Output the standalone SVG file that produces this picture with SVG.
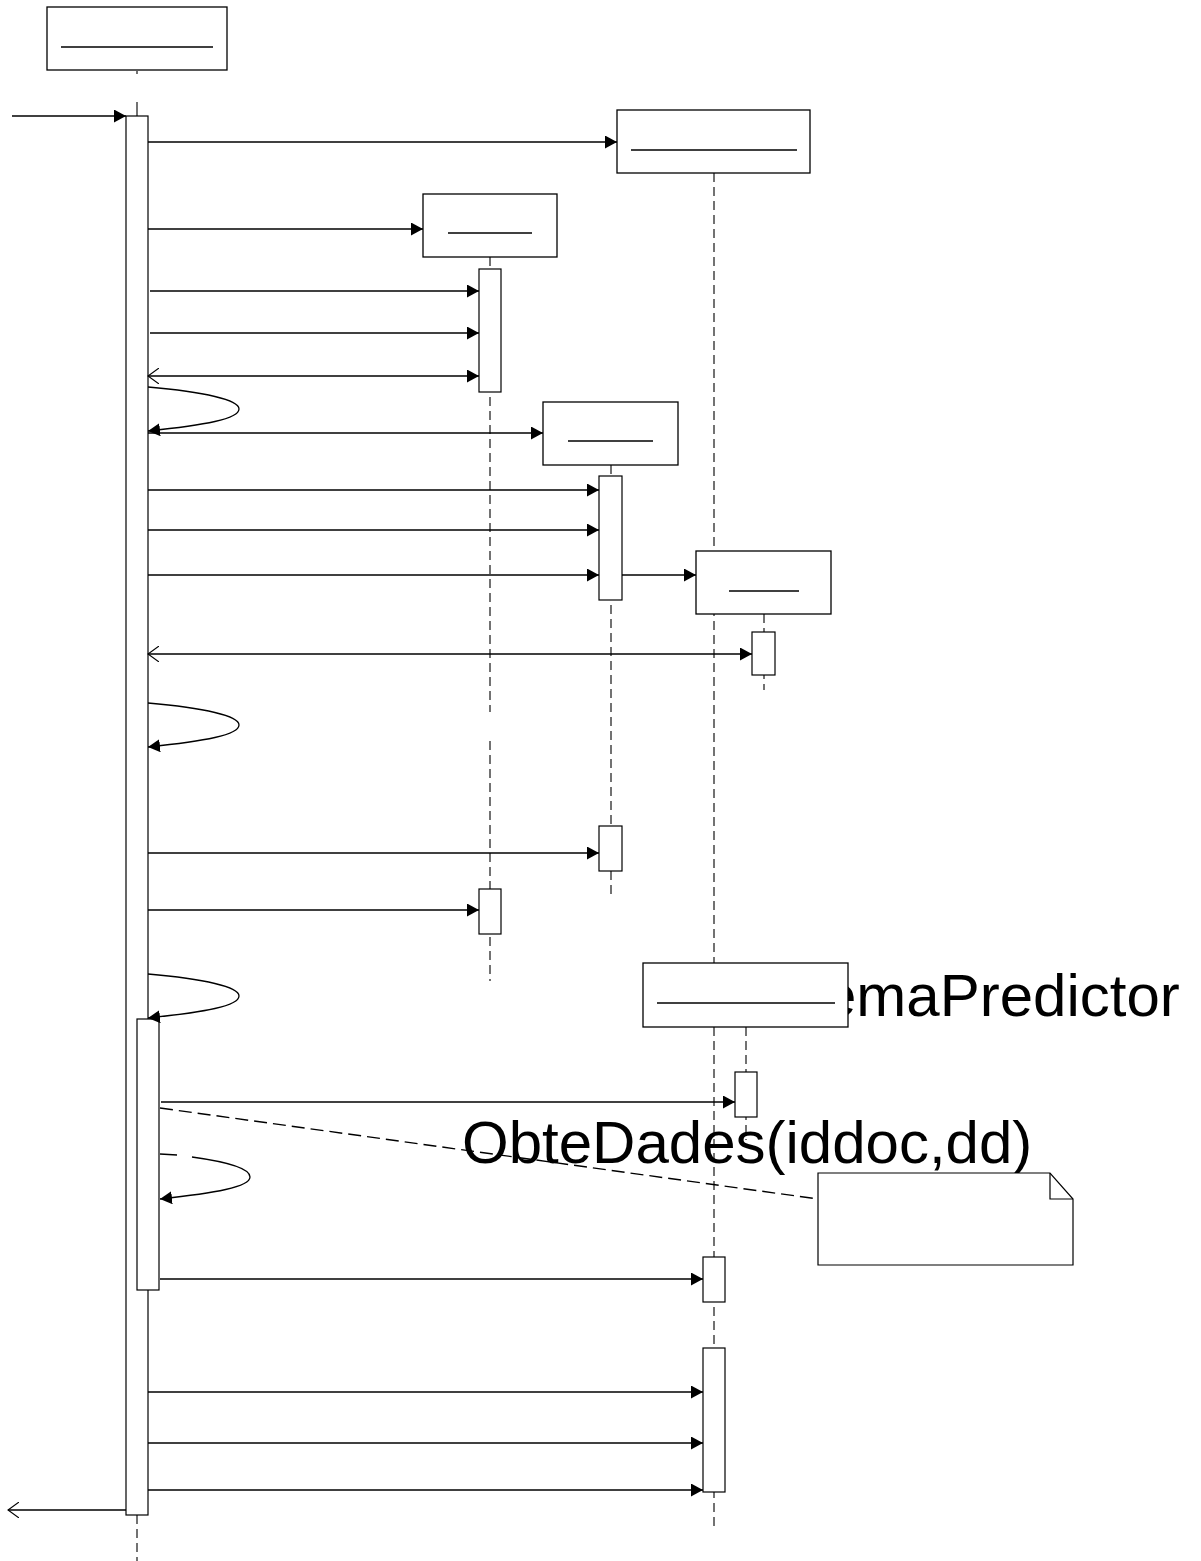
<svg xmlns="http://www.w3.org/2000/svg" width="1201" height="1561" viewBox="0 0 1201 1561">
<style>
.box{fill:#fff;stroke:#000;stroke-width:1.3}
.ul{stroke:#000;stroke-width:1.5}
.act{fill:#fff;stroke:#000;stroke-width:1.2}
.life{stroke:#444;stroke-width:1.5;stroke-dasharray:9 5;fill:none}
.msg{stroke:#000;stroke-width:1.3;fill:none;marker-end:url(#fa)}
.ret{stroke:#000;stroke-width:1.3;fill:none}
.big{font-family:"Liberation Sans",Arial,sans-serif;font-size:60px;fill:#000}
</style>
<defs>
<marker id="fa" viewBox="0 0 12 13" refX="12" refY="6.5" markerWidth="12" markerHeight="13" markerUnits="userSpaceOnUse" orient="auto"><path d="M0,0 L12,6.5 L0,13 z" fill="#000"/></marker>
<marker id="oa" viewBox="0 0 12 16" refX="11" refY="8" markerWidth="12" markerHeight="16" markerUnits="userSpaceOnUse" orient="auto-start-reverse"><path d="M0,0 L11,8 L0,16" fill="none" stroke="#000" stroke-width="1.1"/></marker>
</defs>
<rect width="1201" height="1561" fill="#fff"/>

<g id="lifelines">
<line class="life" x1="137" y1="71" x2="137" y2="116" style="stroke-dasharray:3 28 14 50"/>
<line class="life" x1="137" y1="1515" x2="137" y2="1561"/>
<line class="life" x1="714" y1="173" x2="714" y2="1528"/>
<line class="life" x1="490" y1="257" x2="490" y2="712"/>
<line class="life" x1="490" y1="741" x2="490" y2="981"/>
<line class="life" x1="611" y1="465" x2="611" y2="895"/>
<line class="life" x1="764" y1="614" x2="764" y2="690"/>
<line class="life" x1="746" y1="1027" x2="746" y2="1140"/>
</g>

<text class="big" x="823" y="1016">emaPredictor</text>
<text class="big" x="462" y="1163">ObteDades(iddoc,dd)</text>

<g id="obj1">
<rect class="box" x="47" y="7" width="180" height="63"/>
<line class="ul" x1="61" y1="47" x2="213" y2="47"/>
<rect class="act" x="126" y="116" width="22" height="1399"/>
<rect class="act" x="137" y="1019" width="22" height="271"/>
</g>
<g id="obj2">
<rect class="box" x="617" y="110" width="193" height="63"/>
<line class="ul" x1="631" y1="150" x2="797" y2="150"/>
<rect class="act" x="703" y="1257" width="22" height="45"/>
<rect class="act" x="703" y="1348" width="22" height="144"/>
</g>
<g id="obj3">
<rect class="box" x="423" y="194" width="134" height="63"/>
<line class="ul" x1="448" y1="233" x2="532" y2="233"/>
<rect class="act" x="479" y="269" width="22" height="123"/>
<rect class="act" x="479" y="889" width="22" height="45"/>
</g>
<g id="obj4">
<rect class="box" x="543" y="402" width="135" height="63"/>
<line class="ul" x1="568" y1="441" x2="653" y2="441"/>
<rect class="act" x="599" y="476" width="23" height="124"/>
<rect class="act" x="599" y="826" width="23" height="45"/>
</g>
<g id="obj5">
<rect class="box" x="696" y="551" width="135" height="63"/>
<line class="ul" x1="729" y1="591" x2="799" y2="591"/>
<rect class="act" x="752" y="632" width="23" height="43"/>
</g>
<g id="obj6">
<rect class="box" x="643" y="963" width="205" height="64"/>
<line class="ul" x1="657" y1="1003" x2="835" y2="1003"/>
<rect class="act" x="735" y="1072" width="22" height="45"/>
</g>
<g id="note">
<path d="M818,1173 L1050,1173 L1073,1199 L1073,1265 L818,1265 Z" fill="#fff" stroke="#000" stroke-width="1.2"/>
<path d="M1050,1173 L1050,1199 L1073,1199" fill="none" stroke="#000" stroke-width="1.2"/>
</g>

<g id="connectors">
<line class="msg" x1="12" y1="116" x2="126" y2="116"/>
<line class="msg" x1="148" y1="142" x2="617" y2="142"/>
<line class="msg" x1="148" y1="229" x2="423" y2="229"/>
<line class="msg" x1="150" y1="291" x2="479" y2="291"/>
<line class="msg" x1="150" y1="333" x2="479" y2="333"/>
<line class="msg" x1="148" y1="376" x2="479" y2="376" style="marker-start:url(#oa)"/>
<path class="msg" d="M148,387 C205,392 239,400 239,409 C239,419 205,425 148,431"/>
<line class="msg" x1="148" y1="433" x2="543" y2="433"/>
<line class="msg" x1="148" y1="490" x2="599" y2="490"/>
<line class="msg" x1="148" y1="530" x2="599" y2="530"/>
<line class="msg" x1="148" y1="575" x2="599" y2="575"/>
<line class="msg" x1="622" y1="575" x2="696" y2="575"/>
<line class="msg" x1="148" y1="654" x2="752" y2="654" style="marker-start:url(#oa)"/>
<path class="msg" d="M148,703 C205,708 239,716 239,725 C239,735 205,741 148,747"/>
<line class="msg" x1="148" y1="853" x2="599" y2="853"/>
<line class="msg" x1="148" y1="910" x2="479" y2="910"/>
<path class="msg" d="M148,974 C205,979 239,987 239,996 C239,1006 205,1012 148,1018"/>
<line class="msg" x1="161" y1="1102" x2="735" y2="1102"/>
<line x1="160" y1="1108" x2="818" y2="1199" stroke="#000" stroke-width="1.4" stroke-dasharray="13 6"/>
<line class="ret" x1="160" y1="1154" x2="177" y2="1155"/>
<path class="msg" d="M192,1157 C228,1162 250,1169 250,1177 C250,1187 215,1193 160,1199"/>
<line class="msg" x1="160" y1="1279" x2="703" y2="1279"/>
<line class="msg" x1="148" y1="1392" x2="703" y2="1392"/>
<line class="msg" x1="148" y1="1443" x2="703" y2="1443"/>
<line class="msg" x1="148" y1="1490" x2="703" y2="1490"/>
<line class="ret" x1="126" y1="1510" x2="8" y2="1510" style="marker-end:url(#oa)"/>
</g>
</svg>
